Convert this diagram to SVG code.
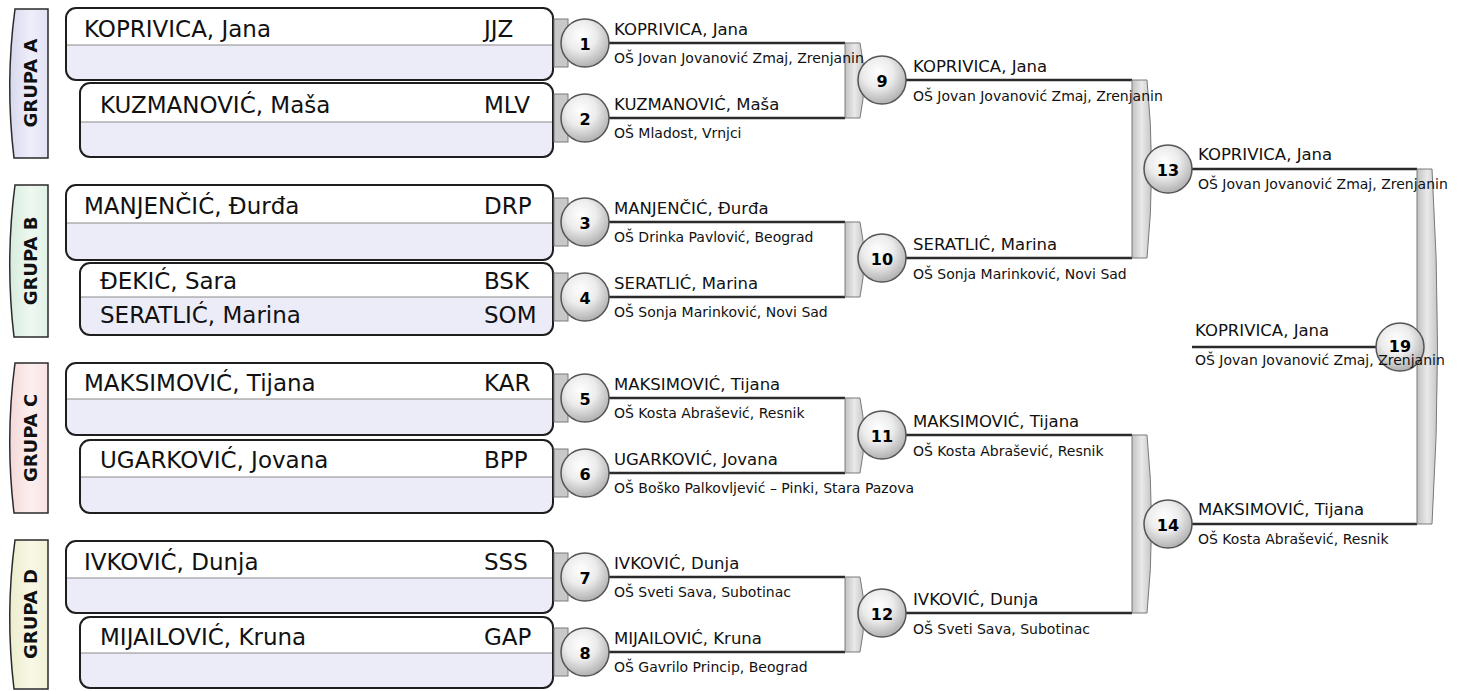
<svg xmlns="http://www.w3.org/2000/svg" width="1469" height="691" viewBox="0 0 1469 691">
<defs>
<radialGradient id="ball" cx="0.42" cy="0.35" r="0.7">
<stop offset="0" stop-color="#ffffff"/>
<stop offset="0.45" stop-color="#ececec"/>
<stop offset="1" stop-color="#a9a9a9"/>
</radialGradient>
<linearGradient id="bar" x1="0" y1="0" x2="1" y2="0">
<stop offset="0" stop-color="#c2c2c2"/>
<stop offset="0.5" stop-color="#e9e9e9"/>
<stop offset="1" stop-color="#c6c6c6"/>
</linearGradient>
<linearGradient id="tabA" x1="0" y1="0" x2="1" y2="0">
<stop offset="0" stop-color="#d8d8ee"/><stop offset="0.55" stop-color="#eeeefb"/><stop offset="1" stop-color="#e2e2f4"/>
</linearGradient>
<linearGradient id="tabB" x1="0" y1="0" x2="1" y2="0">
<stop offset="0" stop-color="#d6ecdc"/><stop offset="0.55" stop-color="#eef8f1"/><stop offset="1" stop-color="#e0f1e5"/>
</linearGradient>
<linearGradient id="tabC" x1="0" y1="0" x2="1" y2="0">
<stop offset="0" stop-color="#f4d8d8"/><stop offset="0.55" stop-color="#fcefef"/><stop offset="1" stop-color="#f8e2e2"/>
</linearGradient>
<linearGradient id="tabD" x1="0" y1="0" x2="1" y2="0">
<stop offset="0" stop-color="#ececcc"/><stop offset="0.55" stop-color="#f8f8e6"/><stop offset="1" stop-color="#f1f1d8"/>
</linearGradient>
<style>
.tab{stroke:#2a2a2a;stroke-width:1.5}
.tabtxt{font-family:"DejaVu Sans",sans-serif;font-weight:bold;font-size:18px;fill:#111;text-anchor:middle;dominant-baseline:central}
.bg{fill:#ececf9}
.r1{fill:#ffffff}
.div{stroke:#8a8a8a;stroke-width:1.2}
.ol{fill:none;stroke:#1e1e1e;stroke-width:2}
.name{font-family:"DejaVu Sans",sans-serif;font-size:23px;fill:#111}
.pname{font-family:"DejaVu Sans",sans-serif;font-size:16.5px;fill:#111}
.school{font-family:"DejaVu Sans",sans-serif;font-size:14px;fill:#111}
.num{font-family:"DejaVu Sans",sans-serif;font-weight:bold;font-size:16px;fill:#000;text-anchor:middle;dominant-baseline:central}
.ln{stroke:#2b2b2b;stroke-width:2.5;fill:none}
.stub{fill:#c8c8c8;stroke:#7a7a7a;stroke-width:1}
.bar{fill:url(#bar);stroke:#7a7a7a;stroke-width:1}
.ball{fill:url(#ball);stroke:#555;stroke-width:1.5}
</style>
</defs>
<rect width="1469" height="691" fill="#ffffff"/>

<g id="tab-A"><path class="tab" fill="url(#tabA)" d="M15,9 L48,9 L48,158 L14,158 Q5,83 15,9 Z"/><text class="tabtxt" transform="translate(30,83) rotate(-90)">GRUPA A</text></g>
<g id="tab-B"><path class="tab" fill="url(#tabB)" d="M15,185 L48,185 L48,337 L14,337 Q5,261 15,185 Z"/><text class="tabtxt" transform="translate(30,261) rotate(-90)">GRUPA B</text></g>
<g id="tab-C"><path class="tab" fill="url(#tabC)" d="M15,363 L48,363 L48,513 L14,513 Q5,438 15,363 Z"/><text class="tabtxt" transform="translate(30,438) rotate(-90)">GRUPA C</text></g>
<g id="tab-D"><path class="tab" fill="url(#tabD)" d="M15,540 L48,540 L48,689 L14,689 Q5,614 15,540 Z"/><text class="tabtxt" transform="translate(30,614) rotate(-90)">GRUPA D</text></g>

<g id="box-1"><rect class="bg" x="66" y="8" width="487" height="72" rx="10"/><path class="r1" d="M66,45 L66,18 Q66,8 76,8 L543,8 Q553,8 553,18 L553,45 Z"/><line class="div" x1="66" y1="45" x2="553" y2="45"/><rect class="ol" x="66" y="8" width="487" height="72" rx="10"/><text class="name" x="84" y="37">KOPRIVICA, Jana</text><text class="name" x="484" y="37">JJZ</text></g>
<g id="box-2"><rect class="bg" x="80" y="83" width="473" height="74" rx="10"/><path class="r1" d="M80,122 L80,93 Q80,83 90,83 L543,83 Q553,83 553,93 L553,122 Z"/><line class="div" x1="80" y1="122" x2="553" y2="122"/><rect class="ol" x="80" y="83" width="473" height="74" rx="10"/><text class="name" x="100" y="113">KUZMANOVIĆ, Maša</text><text class="name" x="484" y="113">MLV</text></g>
<g id="box-3"><rect class="bg" x="66" y="185" width="487" height="75" rx="10"/><path class="r1" d="M66,223 L66,195 Q66,185 76,185 L543,185 Q553,185 553,195 L553,223 Z"/><line class="div" x1="66" y1="223" x2="553" y2="223"/><rect class="ol" x="66" y="185" width="487" height="75" rx="10"/><text class="name" x="84" y="214">MANJENČIĆ, Đurđa</text><text class="name" x="484" y="214">DRP</text></g>
<g id="box-4"><rect class="bg" x="80" y="263" width="473" height="72" rx="10"/><path class="r1" d="M80,297 L80,273 Q80,263 90,263 L543,263 Q553,263 553,273 L553,297 Z"/><line class="div" x1="80" y1="297" x2="553" y2="297"/><rect class="ol" x="80" y="263" width="473" height="72" rx="10"/><text class="name" x="100" y="289">ĐEKIĆ, Sara</text><text class="name" x="484" y="289">BSK</text><text class="name" x="100" y="323">SERATLIĆ, Marina</text><text class="name" x="484" y="323">SOM</text></g>
<g id="box-5"><rect class="bg" x="66" y="363" width="487" height="72" rx="10"/><path class="r1" d="M66,399 L66,373 Q66,363 76,363 L543,363 Q553,363 553,373 L553,399 Z"/><line class="div" x1="66" y1="399" x2="553" y2="399"/><rect class="ol" x="66" y="363" width="487" height="72" rx="10"/><text class="name" x="84" y="391">MAKSIMOVIĆ, Tijana</text><text class="name" x="484" y="391">KAR</text></g>
<g id="box-6"><rect class="bg" x="80" y="440" width="473" height="73" rx="10"/><path class="r1" d="M80,477 L80,450 Q80,440 90,440 L543,440 Q553,440 553,450 L553,477 Z"/><line class="div" x1="80" y1="477" x2="553" y2="477"/><rect class="ol" x="80" y="440" width="473" height="73" rx="10"/><text class="name" x="100" y="468">UGARKOVIĆ, Jovana</text><text class="name" x="484" y="468">BPP</text></g>
<g id="box-7"><rect class="bg" x="66" y="541" width="487" height="72" rx="10"/><path class="r1" d="M66,578 L66,551 Q66,541 76,541 L543,541 Q553,541 553,551 L553,578 Z"/><line class="div" x1="66" y1="578" x2="553" y2="578"/><rect class="ol" x="66" y="541" width="487" height="72" rx="10"/><text class="name" x="84" y="570">IVKOVIĆ, Dunja</text><text class="name" x="484" y="570">SSS</text></g>
<g id="box-8"><rect class="bg" x="80" y="617" width="473" height="71" rx="10"/><path class="r1" d="M80,653 L80,627 Q80,617 90,617 L543,617 Q553,617 553,627 L553,653 Z"/><line class="div" x1="80" y1="653" x2="553" y2="653"/><rect class="ol" x="80" y="617" width="473" height="71" rx="10"/><text class="name" x="100" y="645">MIJAILOVIĆ, Kruna</text><text class="name" x="484" y="645">GAP</text></g>

<g id="connectors">
<rect class="stub" x="554" y="19" width="14" height="48"/>
<rect class="stub" x="554" y="94" width="14" height="48"/>
<rect class="stub" x="554" y="198" width="14" height="48"/>
<rect class="stub" x="554" y="273" width="14" height="48"/>
<rect class="stub" x="554" y="374" width="14" height="48"/>
<rect class="stub" x="554" y="449" width="14" height="48"/>
<rect class="stub" x="554" y="553" width="14" height="48"/>
<rect class="stub" x="554" y="628" width="14" height="48"/>
<path class="ln" d="M585,43 H845 M585,118 H845 M585,222 H845 M585,297 H845 M585,398 H845 M585,473 H845 M585,577 H845 M585,652 H845"/>
<path class="bar" d="M845,43 L860,43 Q868,80 860,118 L845,118 Z"/>
<path class="bar" d="M845,222 L860,222 Q868,259 860,297 L845,297 Z"/>
<path class="bar" d="M845,398 L860,398 Q868,435 860,473 L845,473 Z"/>
<path class="bar" d="M845,577 L860,577 Q868,614 860,652 L845,652 Z"/>
<path class="ln" d="M882,80 H1132 M882,258 H1132 M882,435 H1132 M882,613 H1132"/>
<path class="bar" d="M1132,80 L1147,80 Q1156,169 1147,258 L1132,258 Z"/>
<path class="bar" d="M1132,435 L1147,435 Q1156,524 1147,613 L1132,613 Z"/>
<path class="ln" d="M1168,169 H1417 M1168,524 H1417 M1192,347 H1400"/>
<path class="bar" d="M1417,169 L1432,169 Q1443,347 1432,524 L1417,524 Z"/>
</g>

<g id="m1"><circle class="ball" cx="585" cy="43" r="24"/><text class="num" x="585" y="44">1</text><text class="pname" x="614" y="35">KOPRIVICA, Jana</text><text class="school" x="614" y="63">OŠ Jovan Jovanović Zmaj, Zrenjanin</text></g>
<g id="m2"><circle class="ball" cx="585" cy="118" r="24"/><text class="num" x="585" y="119">2</text><text class="pname" x="614" y="110">KUZMANOVIĆ, Maša</text><text class="school" x="614" y="138">OŠ Mladost, Vrnjci</text></g>
<g id="m3"><circle class="ball" cx="585" cy="222" r="24"/><text class="num" x="585" y="223">3</text><text class="pname" x="614" y="214">MANJENČIĆ, Đurđa</text><text class="school" x="614" y="242">OŠ Drinka Pavlović, Beograd</text></g>
<g id="m4"><circle class="ball" cx="585" cy="297" r="24"/><text class="num" x="585" y="298">4</text><text class="pname" x="614" y="289">SERATLIĆ, Marina</text><text class="school" x="614" y="317">OŠ Sonja Marinković, Novi Sad</text></g>
<g id="m5"><circle class="ball" cx="585" cy="398" r="24"/><text class="num" x="585" y="399">5</text><text class="pname" x="614" y="390">MAKSIMOVIĆ, Tijana</text><text class="school" x="614" y="418">OŠ Kosta Abrašević, Resnik</text></g>
<g id="m6"><circle class="ball" cx="585" cy="473" r="24"/><text class="num" x="585" y="474">6</text><text class="pname" x="614" y="465">UGARKOVIĆ, Jovana</text><text class="school" x="614" y="493">OŠ Boško Palkovljević – Pinki, Stara Pazova</text></g>
<g id="m7"><circle class="ball" cx="585" cy="577" r="24"/><text class="num" x="585" y="578">7</text><text class="pname" x="614" y="569">IVKOVIĆ, Dunja</text><text class="school" x="614" y="597">OŠ Sveti Sava, Subotinac</text></g>
<g id="m8"><circle class="ball" cx="585" cy="652" r="24"/><text class="num" x="585" y="653">8</text><text class="pname" x="614" y="644">MIJAILOVIĆ, Kruna</text><text class="school" x="614" y="672">OŠ Gavrilo Princip, Beograd</text></g>
<g id="m9"><circle class="ball" cx="882" cy="80" r="24"/><text class="num" x="882" y="81">9</text><text class="pname" x="913" y="72">KOPRIVICA, Jana</text><text class="school" x="913" y="101">OŠ Jovan Jovanović Zmaj, Zrenjanin</text></g>
<g id="m10"><circle class="ball" cx="882" cy="258" r="24"/><text class="num" x="882" y="259">10</text><text class="pname" x="913" y="250">SERATLIĆ, Marina</text><text class="school" x="913" y="279">OŠ Sonja Marinković, Novi Sad</text></g>
<g id="m11"><circle class="ball" cx="882" cy="435" r="24"/><text class="num" x="882" y="436">11</text><text class="pname" x="913" y="427">MAKSIMOVIĆ, Tijana</text><text class="school" x="913" y="456">OŠ Kosta Abrašević, Resnik</text></g>
<g id="m12"><circle class="ball" cx="882" cy="613" r="24"/><text class="num" x="882" y="614">12</text><text class="pname" x="913" y="605">IVKOVIĆ, Dunja</text><text class="school" x="913" y="634">OŠ Sveti Sava, Subotinac</text></g>
<g id="m13"><circle class="ball" cx="1168" cy="169" r="24"/><text class="num" x="1168" y="170">13</text><text class="pname" x="1198" y="160">KOPRIVICA, Jana</text><text class="school" x="1198" y="189">OŠ Jovan Jovanović Zmaj, Zrenjanin</text></g>
<g id="m14"><circle class="ball" cx="1168" cy="524" r="24"/><text class="num" x="1168" y="525">14</text><text class="pname" x="1198" y="515">MAKSIMOVIĆ, Tijana</text><text class="school" x="1198" y="544">OŠ Kosta Abrašević, Resnik</text></g>
<g id="m19"><circle class="ball" cx="1400" cy="347" r="24"/><text class="num" x="1400" y="346">19</text><text class="pname" x="1195" y="336">KOPRIVICA, Jana</text><text class="school" x="1195" y="365">OŠ Jovan Jovanović Zmaj, Zrenjanin</text></g>
</svg>
